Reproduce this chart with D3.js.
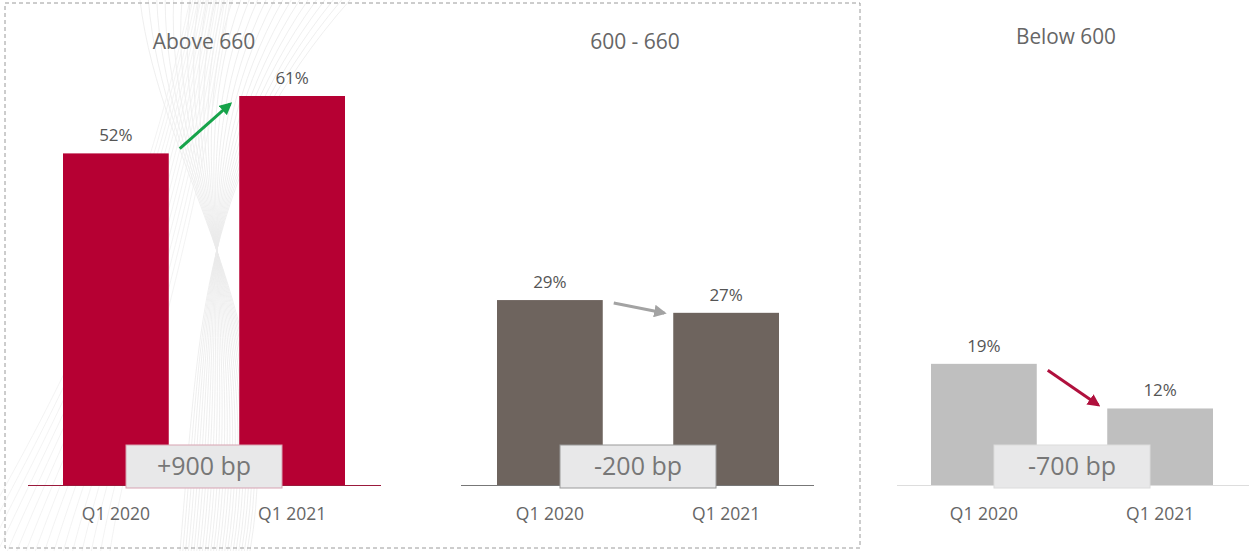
<!DOCTYPE html>
<html>
<head>
<meta charset="utf-8">
<script src="https://cdn.jsdelivr.net/npm/d3@7"></script>
<style>
  html, body { margin: 0; padding: 0; background: #fff; }
  svg { display: block; font-family: "Open Sans", "Noto Sans", sans-serif; }
</style>
</head>
<body>
<div id="chart"></div>
<script>
const panels = ["Above 660", "600 - 660", "Below 600"];
const periods = ["Q1 2020", "Q1 2021"];
const q1_2020 = [52, 29, 19];
const q1_2021 = [61, 27, 12];
const bpChange = ["+900 bp", "-200 bp", "-700 bp"];

const width = 1249, height = 551;
const barColors = ["#b60033", "#6e645e", "#bfbfbf"];
const baseColors = ["#9b1a3c", "#777777", "#dddddd"];
const boxStroke = ["#d7a3b2", "#9a9a9a", "#dcdcdc"];
const arrowColors = ["#16a34a", "#a3a3a3", "#b0103d"];

const svg = d3.select("#chart").append("svg")
    .attr("width", width)
    .attr("height", height);

const defs = svg.append("defs");
arrowColors.forEach((c, i) => {
    defs.append("marker")
        .attr("id", "arrow" + i)
        .attr("viewBox", "0 0 10 10")
        .attr("refX", 8).attr("refY", 5)
        .attr("markerWidth", 4.2).attr("markerHeight", 4.2)
        .attr("orient", "auto")
        .append("path")
        .attr("d", "M0,0 L10,5 L0,10 z")
        .attr("fill", c);
});

// faint decorative ribbon behind the first panel
const deco = svg.append("g").attr("fill", "none").attr("stroke", "#ebebeb").attr("stroke-width", 0.8);
for (let i = 0; i < 26; i++) {
    const t = i / 25;
    deco.append("path")
        .attr("d", `M${140 + t * 210},0 C${160 + t * 40},170 ${290 - t * 90},320 ${250 - t * 70},551`);
}
for (let i = 0; i < 16; i++) {
    const t = i / 15;
    deco.append("path")
        .attr("d", `M${-30 + t * 140},551 C${40 + t * 90},420 ${130 + t * 60},280 ${190 + t * 40},0`)
        .attr("stroke", "#f0f0f0");
}

// dashed frame around first two panels
svg.append("rect")
    .attr("x", 5).attr("y", 3)
    .attr("width", 855).attr("height", 545)
    .attr("fill", "none")
    .attr("stroke", "#9a9a9a")
    .attr("stroke-dasharray", "4,3");

const xPanel = d3.scalePoint().domain(panels).range([204, 1072]);
const xBar = d3.scaleBand().domain(periods).range([-141, 141]).paddingInner(0.4);
const y = d3.scaleLinear().domain([0, 61]).range([485, 96]);

panels.forEach((p, i) => {
    const g = svg.append("g").attr("transform", `translate(${xPanel(p)},0)`);
    const vals = [q1_2020[i], q1_2021[i]];

    const title = g.append("text")
        .attr("x", i === 2 ? -6 : (i === 1 ? -3 : 0))
        .attr("y", i === 2 ? 44 : 49)
        .attr("text-anchor", "middle")
        .attr("fill", "#666")
        .style("font-size", "21px")
        .text(p);
    if (i === 2) title.attr("textLength", 100).attr("lengthAdjust", "spacingAndGlyphs");

    // baseline
    const lineExt = i === 0 ? [-176, 177] : (i === 1 ? [-177, 176] : [-175, 177]);
    g.append("line")
        .attr("x1", lineExt[0]).attr("x2", lineExt[1])
        .attr("y1", y(0) + 0.5).attr("y2", y(0) + 0.5)
        .attr("stroke", baseColors[i])
        .attr("stroke-width", 1.2);

    g.selectAll("rect.bar")
        .data(periods)
        .join("rect")
        .attr("class", "bar")
        .attr("x", d => xBar(d))
        .attr("width", xBar.bandwidth())
        .attr("y", (d, j) => y(vals[j]))
        .attr("height", (d, j) => y(0) - y(vals[j]))
        .attr("fill", barColors[i]);

    g.selectAll("text.val")
        .data(periods)
        .join("text")
        .attr("class", "val")
        .attr("x", d => xBar(d) + xBar.bandwidth() / 2)
        .attr("y", (d, j) => y(vals[j]) - 12)
        .attr("text-anchor", "middle")
        .attr("fill", "#555")
        .style("font-size", "17px")
        .text((d, j) => vals[j] + "%");

    g.selectAll("text.cat")
        .data(periods)
        .join("text")
        .attr("class", "cat")
        .attr("x", d => xBar(d) + xBar.bandwidth() / 2)
        .attr("y", 520)
        .attr("text-anchor", "middle")
        .attr("fill", "#666")
        .style("font-size", "17.5px")
        .text(d => d);

    // change arrow
    const x1 = xBar(periods[0]) + xBar.bandwidth() + 11;
    const x2 = xBar(periods[1]) - 9;
    const mid = (y(vals[0]) + y(vals[1])) / 2 + 1.5;
    const half = (y(vals[1]) - y(vals[0])) / 2 * 0.78;
    g.append("line")
        .attr("x1", x1).attr("y1", mid - half)
        .attr("x2", x2).attr("y2", mid + half)
        .attr("stroke", arrowColors[i])
        .attr("stroke-width", 3)
        .attr("marker-end", `url(#arrow${i})`);

    // bp box
    g.append("rect")
        .attr("x", -78).attr("y", 445)
        .attr("width", 156).attr("height", 43)
        .attr("fill", "#e8e8e9")
        .attr("stroke", boxStroke[i])
        .attr("stroke-width", 1);
    g.append("text")
        .attr("x", 0).attr("y", 475)
        .attr("text-anchor", "middle")
        .attr("fill", "#777")
        .style("font-size", "25px")
        .text(bpChange[i]);
});
</script>
</body>
</html>
